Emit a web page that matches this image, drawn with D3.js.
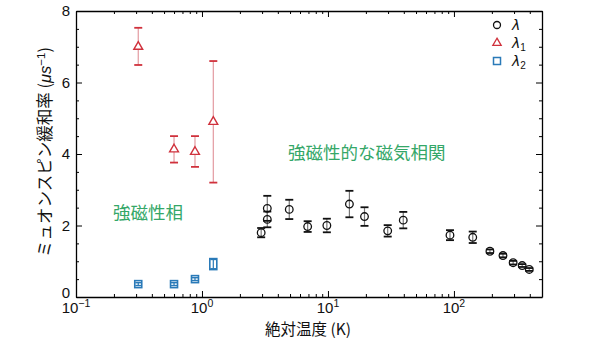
<!DOCTYPE html>
<html>
<head>
<meta charset="utf-8">
<script src="https://cdn.jsdelivr.net/npm/d3@7"></script>
<style>
  html, body { margin: 0; padding: 0; background: #fff; }
  svg { display: block; }
</style>
</head>
<body>
<svg id="chart" width="590" height="339"></svg>
<script>
// Muon spin relaxation rate vs absolute temperature
const tempLambda   = [2.95, 3.3, 3.3, 4.93, 6.9, 9.8, 14.8, 19.5, 29.8, 39.6, 93, 141, 193, 245, 295, 348, 396];
const valLambda    = [1.80, 2.48, 2.17, 2.45, 1.97, 2.00, 2.60, 2.25, 1.85, 2.15, 1.73, 1.67, 1.28, 1.16, 0.96, 0.88, 0.77];
const errLambda    = [0.13, 0.35, 0.22, 0.27, 0.15, 0.19, 0.37, 0.26, 0.16, 0.23, 0.14, 0.16, 0.05, 0.05, 0.05, 0.04, 0.04];

const tempLambda1  = [0.312, 0.60, 0.88, 1.23];
const valLambda1   = [7.00, 4.13, 4.06, 4.90];
const lowLambda1   = [6.49, 3.76, 3.64, 3.20];
const highLambda1  = [7.53, 4.50, 4.50, 6.60];

const tempLambda2  = [0.312, 0.60, 0.88, 1.23];
const valLambda2   = [0.36, 0.36, 0.50, 0.92];
const errLambda2   = [0.04, 0.04, 0.04, 0.13];

const yTicks = [0, 2, 4, 6, 8];
const xMajorTicks = [0.1, 1, 10, 100];
const xTickExponents = ["\u22121", "0", "1", "2"];

const legendLabels = [{sym: "λ", sub: ""}, {sym: "λ", sub: "1"}, {sym: "λ", sub: "2"}];
const annotationMain = "強磁性的な磁気相関";
const annotationPhase = "強磁性相";
const xTitle = "絶対温度 (K)";
const yTitle = "ミュオンスピン緩和率 (";

const svg = d3.select("#chart");
const plotLeft = 76, plotRight = 542, plotTop = 11, plotBottom = 297;

const x = d3.scaleLog().domain([0.1, 500]).range([plotLeft, plotRight]);
const y = d3.scaleLinear().domain([0, 8]).range([plotBottom, plotTop]);

const numFont = "'Liberation Sans', Arial, sans-serif";
const jpFont = "'Noto Sans CJK JP', sans-serif";

const red = "#d0313c", redLight = "#e39aa0";
const blue = "#2a7ab8";
const green = "#35a768";

// minor tick values
const xMinor = [];
[0.1, 1, 10, 100].forEach(d => { for (let k = 2; k <= 9; k++) { const v = d * k; if (v <= 500) xMinor.push(v); } });
const yMinor = d3.range(0, 8.01, 0.5).filter(v => v % 2 !== 0);

// axes with inward ticks
const g = svg.append("g");
const axisStyle = sel => sel.call(s => s.select(".domain").attr("stroke", "#000").attr("stroke-width", 1.3))
  .selectAll(".tick line").attr("stroke", "#000").attr("stroke-width", 1);
const minorStyle = sel => sel.call(s => s.select(".domain").remove())
  .selectAll(".tick line").attr("stroke", "#000").attr("stroke-width", 1);

g.append("g").attr("transform", `translate(0,${plotBottom})`)
  .call(d3.axisBottom(x).tickValues(xMajorTicks).tickSize(-6).tickSizeOuter(0).tickFormat(""))
  .call(axisStyle);
g.append("g").attr("transform", `translate(0,${plotBottom})`)
  .call(d3.axisBottom(x).tickValues(xMinor).tickSize(-3).tickSizeOuter(0).tickFormat(""))
  .call(minorStyle);
g.append("g").attr("transform", `translate(0,${plotTop})`)
  .call(d3.axisTop(x).tickValues(xMajorTicks).tickSize(-6).tickSizeOuter(0).tickFormat(""))
  .call(axisStyle);
g.append("g").attr("transform", `translate(0,${plotTop})`)
  .call(d3.axisTop(x).tickValues(xMinor).tickSize(-3).tickSizeOuter(0).tickFormat(""))
  .call(minorStyle);

g.append("g").attr("transform", `translate(${plotLeft},0)`)
  .call(d3.axisLeft(y).tickValues(yTicks).tickSize(-6).tickSizeOuter(0).tickFormat(""))
  .call(axisStyle);
g.append("g").attr("transform", `translate(${plotLeft},0)`)
  .call(d3.axisLeft(y).tickValues(yMinor).tickSize(-3).tickSizeOuter(0).tickFormat(""))
  .call(minorStyle);
g.append("g").attr("transform", `translate(${plotRight},0)`)
  .call(d3.axisRight(y).tickValues(yTicks).tickSize(-6).tickSizeOuter(0).tickFormat(""))
  .call(axisStyle);
g.append("g").attr("transform", `translate(${plotRight},0)`)
  .call(d3.axisRight(y).tickValues(yMinor).tickSize(-3).tickSizeOuter(0).tickFormat(""))
  .call(minorStyle);

// y tick labels
svg.append("g").selectAll("text").data(yTicks).join("text")
  .attr("x", plotLeft - 6).attr("y", d => y(d) + (d === 0 ? 1 : 5))
  .attr("text-anchor", "end").attr("font-family", numFont).attr("font-size", 15)
  .attr("fill", "#111").text(d => d);

// x tick labels as powers of ten
const xl = svg.append("g").selectAll("text").data(xMajorTicks).join("text")
  .attr("x", d => x(d)).attr("y", plotBottom + 16)
  .attr("text-anchor", "middle").attr("font-family", numFont).attr("font-size", 15).attr("fill", "#111");
xl.append("tspan").text("10");
xl.append("tspan").attr("dy", -6).attr("font-size", 10.5).text((d, i) => xTickExponents[i]);

// axis titles
svg.append("text").attr("x", 308).attr("y", 335).attr("text-anchor", "middle")
  .attr("font-family", jpFont).attr("font-size", 15.5).attr("fill", "#111").text(xTitle);

const yt = svg.append("text").attr("transform", `translate(51,${(plotTop + plotBottom) / 2 - 2}) rotate(-90)`)
  .attr("text-anchor", "middle").attr("font-family", jpFont).attr("font-size", 16.5).attr("fill", "#111");
yt.append("tspan").text(yTitle);
yt.append("tspan").attr("font-style", "italic").attr("font-family", numFont).text("μs");
yt.append("tspan").attr("dy", -6).attr("font-size", 11.5).attr("font-family", numFont).text("\u22121");
yt.append("tspan").attr("dy", 6).text(")");

// error bars helper
function errorBars(temps, lows, highs, lineColor, capColor, capW, capSW) {
  const eg = svg.append("g");
  eg.selectAll("line.v").data(temps).join("line").attr("class", "v")
    .attr("x1", d => x(d)).attr("x2", d => x(d))
    .attr("y1", (d, i) => y(lows[i])).attr("y2", (d, i) => y(highs[i]))
    .attr("stroke", lineColor).attr("stroke-width", 1.2);
  ["lo", "hi"].forEach(k => {
    const arr = k === "lo" ? lows : highs;
    eg.selectAll("line." + k).data(temps).join("line").attr("class", k)
      .attr("x1", d => x(d) - capW).attr("x2", d => x(d) + capW)
      .attr("y1", (d, i) => y(arr[i])).attr("y2", (d, i) => y(arr[i]))
      .attr("stroke", capColor).attr("stroke-width", capSW);
  });
}

// λ1: red triangles
errorBars(tempLambda1, lowLambda1, highLambda1, redLight, red, 4, 1.8);
const tri = d3.symbol().type(d3.symbolTriangle).size(34);
svg.append("g").selectAll("path").data(tempLambda1).join("path")
  .attr("d", tri).attr("transform", (d, i) => `translate(${x(d)},${y(valLambda1[i])})`)
  .attr("fill", "#fff").attr("stroke", red).attr("stroke-width", 1.4);

// λ2: blue squares
errorBars(tempLambda2, valLambda2.map((v, i) => v - errLambda2[i]), valLambda2.map((v, i) => v + errLambda2[i]), blue, blue, 3, 1.4);
svg.append("g").selectAll("rect").data(tempLambda2).join("rect")
  .attr("x", d => x(d) - 3.5).attr("width", 7)
  .attr("y", (d, i) => y(valLambda2[i]) - 3.5 - (i === 3 ? 2 : 0)).attr("height", (d, i) => 7 + (i === 3 ? 4 : 0))
  .attr("fill", "none").attr("stroke", blue).attr("stroke-width", 1.6);

// λ: black circles
errorBars(tempLambda, valLambda.map((v, i) => v - errLambda[i]), valLambda.map((v, i) => v + errLambda[i]), "#777", "#111", 4, 1.8);
svg.append("g").selectAll("circle").data(tempLambda).join("circle")
  .attr("cx", d => x(d)).attr("cy", (d, i) => y(valLambda[i])).attr("r", 3.8)
  .attr("fill", "none").attr("stroke", "#111").attr("stroke-width", 1.3);

// annotations
svg.append("text").attr("x", 288).attr("y", 159).attr("font-family", jpFont).attr("font-size", 17.5)
  .attr("fill", green).text(annotationMain);
svg.append("text").attr("x", 113).attr("y", 219).attr("font-family", jpFont).attr("font-size", 17.5)
  .attr("fill", green).text(annotationPhase);

// legend
const lg = svg.append("g");
const ly = [25, 43, 61];
lg.append("circle").attr("cx", 497).attr("cy", ly[0]).attr("r", 3.5).attr("fill", "none").attr("stroke", "#111").attr("stroke-width", 1.3);
lg.append("path").attr("d", d3.symbol().type(d3.symbolTriangle).size(30)).attr("transform", `translate(497,${ly[1]})`)
  .attr("fill", "#fff").attr("stroke", red).attr("stroke-width", 1.3);
lg.append("rect").attr("x", 493.5).attr("y", ly[2] - 3.5).attr("width", 7).attr("height", 7)
  .attr("fill", "none").attr("stroke", blue).attr("stroke-width", 1.5);
legendLabels.forEach((l, i) => {
  const t = lg.append("text").attr("x", 512).attr("y", ly[i] + 5).attr("font-family", "'DejaVu Sans', sans-serif")
    .attr("font-style", "italic").attr("font-size", 14).attr("fill", "#111");
  t.append("tspan").text(l.sym);
  if (l.sub) t.append("tspan").attr("dy", 3).attr("font-size", 10).attr("font-style", "normal").attr("font-family", numFont).text(l.sub);
});
</script>
</body>
</html>
